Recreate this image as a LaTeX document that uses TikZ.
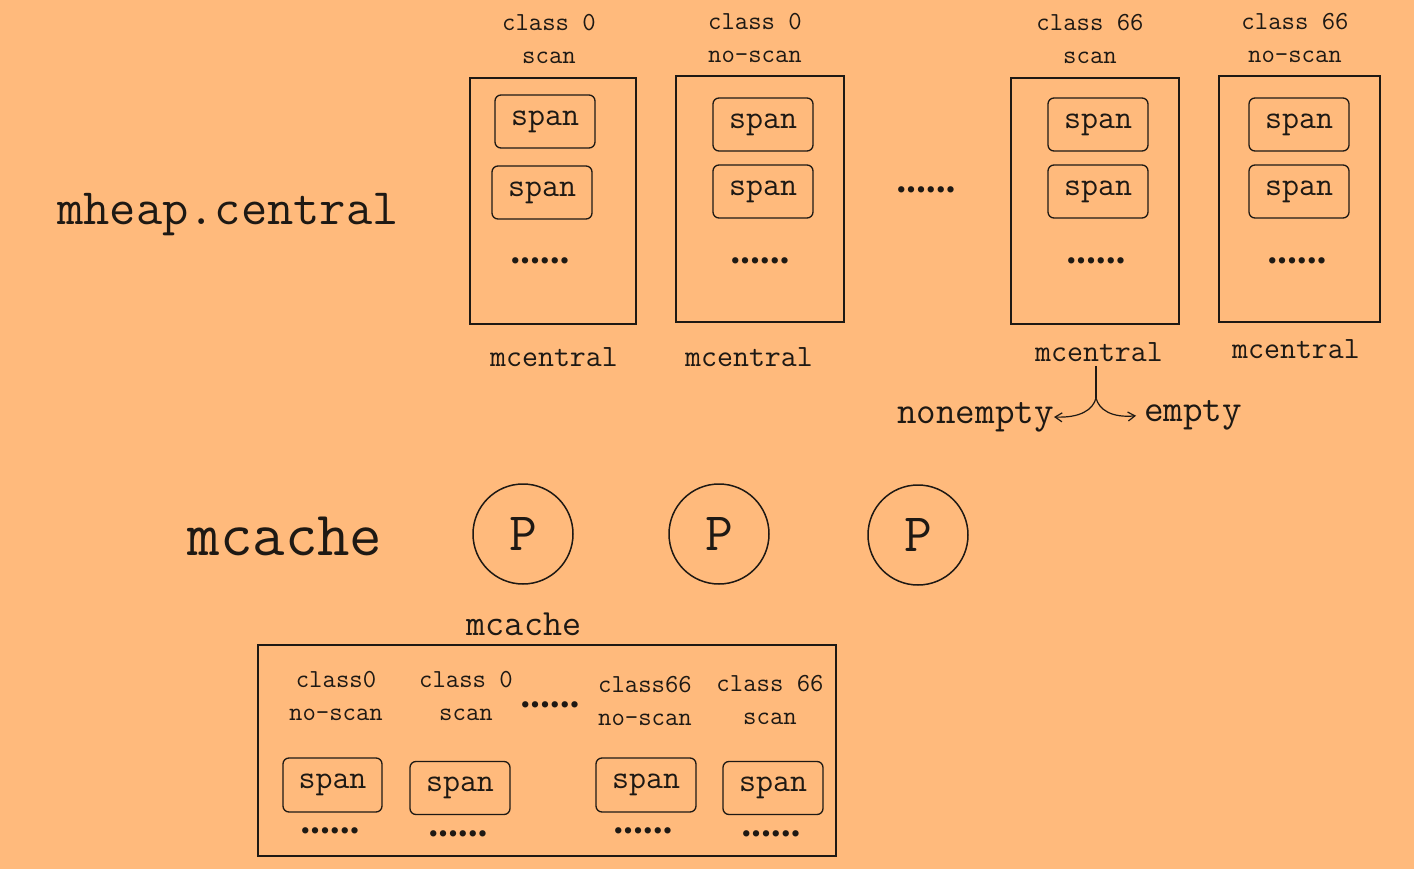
\documentclass[tikz,border=0pt]{standalone}
\usepackage{fontspec}
\newfontfamily\dotfont[LetterSpace=-9]{DejaVu Sans}
\usetikzlibrary{arrows.meta}
\definecolor{bg}{RGB}{255,186,124}
\definecolor{ink}{RGB}{30,25,20}
\tikzset{
  central/.style={draw=ink,line width=1.8pt,inner sep=0pt},
  spanbox/.style={draw=ink,line width=1.3pt,rounded corners=6pt,minimum width=100pt,minimum height=53pt,font=\ttfamily\fontsize{33}{34}\selectfont,text=ink},
  lbl/.style={font=\ttfamily\fontsize{26}{33}\selectfont,align=center,text=ink,inner sep=0pt},
  mclbl/.style={font=\ttfamily\fontsize{31}{33}\selectfont,text=ink,inner sep=0pt},
  dots/.style={font=\dotfont\bfseries\fontsize{18}{18}\selectfont,text=ink,inner sep=0pt},
  pcircle/.style={draw=ink,line width=1.5pt,circle,minimum size=100pt,font=\ttfamily\fontsize{54}{56}\selectfont,text=ink},
  big/.style={font=\ttfamily\fontsize{51}{54}\selectfont,text=ink,inner sep=0pt},
  arr/.style={draw=ink,line width=1.2pt,-{Straight Barb[length=7pt,width=9pt]}}
}
\begin{document}
\begin{tikzpicture}[x=1pt,y=-1pt]
\fill[bg] (0,0) rectangle (1414,869);
\useasboundingbox (0,0) rectangle (1414,869);

\node[big] (mh) at (228,215) {mheap.central};
\node[big,font=\ttfamily\fontsize{63}{66}\selectfont] (mcbig) at (285,536) {mcache};

% top mcentral boxes
\node[central,minimum width=166pt,minimum height=246pt] (c1) at (553,201) {};
\node[central,minimum width=168pt,minimum height=246pt] (c2) at (760,199) {};
\node[central,minimum width=168pt,minimum height=246pt] (c3) at (1095,201) {};
\node[central,minimum width=161pt,minimum height=246pt] (c4) at (1299.5,199) {};

\node[spanbox] (s11) at (545,121.5) {span};
\node[spanbox] (s12) at (542,192.5) {span};
\node[spanbox] (s21) at (763,124.5) {span};
\node[spanbox] (s22) at (763,191.5) {span};
\node[spanbox] (s31) at (1098,124.5) {span};
\node[spanbox] (s32) at (1098,191.5) {span};
\node[spanbox] (s41) at (1299,124.5) {span};
\node[spanbox] (s42) at (1299,191.5) {span};

\node[dots] (d1) at (540,263) {••••••};
\node[dots] (d2) at (760,263) {••••••};
\node[dots] (d3) at (1096,263) {••••••};
\node[dots] (d4) at (1297,263) {••••••};
\node[dots] (dm) at (926,192) {••••••};

\node[lbl] (l1) at (549,39) {class 0\\scan};
\node[lbl] (l2) at (755,38) {class 0\\no-scan};
\node[lbl] (l3) at (1090,39) {class 66\\scan};
\node[lbl] (l4) at (1295,38) {class 66\\no-scan};

\node[mclbl] (m1) at (554,357) {mcentral};
\node[mclbl] (m2) at (749,357) {mcentral};
\node[mclbl] (m3) at (1099,352) {mcentral};
\node[mclbl] (m4) at (1296,349) {mcentral};

\node[mclbl,font=\ttfamily\fontsize{38}{40}\selectfont,anchor=east] (ne) at (1054,417) {nonempty};
\node[mclbl,font=\ttfamily\fontsize{38}{40}\selectfont,anchor=west] (em) at (1144,415) {empty};
\coordinate (fork) at (1096,398);
\draw[draw=ink,line width=1.2pt] (m3.south -| fork) ++(0,4) -- (fork);
\draw[arr] (fork) .. controls (1093,410) and (1080,418) .. (ne.east);
\draw[arr,shorten >=8pt] (fork) .. controls (1099,410) and (1112,418) .. (em.west);

% P circles
\node[pcircle] (p1) at (523,534) {P};
\node[pcircle] (p2) at (719,534) {P};
\node[pcircle] (p3) at (918,535) {P};

\node[mclbl,font=\ttfamily\fontsize{37}{40}\selectfont] (mcl) at (524,624) {mcache};

% mcache box
\node[central,minimum width=578pt,minimum height=211pt] (mc) at (547,750.5) {};
\node[lbl] (b1) at (336,696) {class0\\no-scan};
\node[lbl] (b2) at (466,696) {class 0\\scan};
\node[dots] (bd) at (550,707) {••••••};
\node[lbl] (b3) at (645,701) {class66\\no-scan};
\node[lbl] (b4) at (770,700) {class 66\\scan};

\node[spanbox,minimum width=99pt,minimum height=54pt] (bs1) at (332.5,785) {span};
\node[spanbox] (bs2) at (460,788) {span};
\node[spanbox,minimum height=54pt] (bs3) at (646,785) {span};
\node[spanbox] (bs4) at (773,788) {span};

\node[dots] (bd1) at (330,833) {••••••};
\node[dots] (bd2) at (458,836) {••••••};
\node[dots] (bd3) at (643,833) {••••••};
\node[dots] (bd4) at (771,836) {••••••};
\end{tikzpicture}
\end{document}
